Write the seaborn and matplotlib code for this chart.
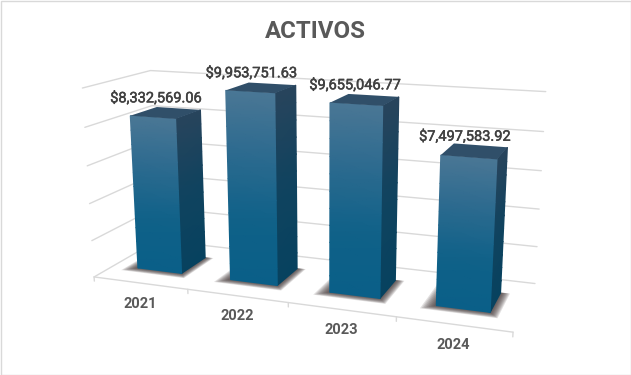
import numpy as np
import seaborn as sns
import matplotlib.pyplot as plt
import matplotlib.patheffects as pe
from matplotlib.patches import Polygon, Rectangle
from matplotlib.transforms import Transform, IdentityTransform

years = ['2021', '2022', '2023', '2024']
activos = [8332569.06, 9953751.63, 9655046.77, 7497583.92]
value_labels = ['$8,332,569.06', '$9,953,751.63', '$9,655,046.77', '$7,497,583.92']
grid_values = [0, 2000000, 4000000, 6000000, 8000000, 10000000]

W, H = 631, 375
TOP = 10000000
D0, D1 = 0.30, 0.71   # depth of the bars inside the floor

# camera calibration: (category x, depth, value) -> pixel in the picture
world = np.array([(0, 0, 0), (1, 0, 0), (2, 0, 0), (3, 0, 0), (4, 0, 0),
                  (0, 1, 0), (4, 1, 0), (0, 0, 1), (0, 1, 1), (4, 1, 1),
                  (0, 0, .8), (0, 0, .6), (4, 1, .8), (4, 1, .6)], float)
pixel = np.array([(94, 277), (188, 290), (288, 303), (396, 317), (513, 332),
                  (158, 240), (535, 283), (82, 88), (150, 71), (546, 92),
                  (85, 127), (88, 165), (543, 132), (542, 170)], float)

rows = []
for (a, b, c), (u, v) in zip(world, pixel):
    rows.append([a, b, c, 1, 0, 0, 0, 0, -u*a, -u*b, -u*c, -u])
    rows.append([0, 0, 0, 0, a, b, c, 1, -v*a, -v*b, -v*c, -v])
cam = np.linalg.svd(np.array(rows))[2][-1].reshape(3, 4)


def proj(x, d, z):
    # x is in category units, z in chart values, result is display coords
    x, d, z = np.broadcast_arrays(np.asarray(x, float), np.asarray(d, float), np.asarray(z, float)/TOP)
    p = cam @ np.stack([x, d, z, np.ones_like(x, dtype=float)])
    return np.stack([p[0]/p[2], H - p[1]/p[2]], axis=-1)


class FrontPlane(Transform):
    input_dims = output_dims = 2

    def transform_non_affine(self, xy):
        xy = np.asarray(xy)
        return proj(xy[:, 0] + 0.5, D0, xy[:, 1])


sns.set_theme(style="white")
plt.rcParams['font.family'] = ['Roboto', 'DejaVu Sans']

fig = plt.figure(figsize=(W/100, H/100), dpi=100, facecolor='white')
ax = fig.add_axes([0, 0, 1, 1])
sns.barplot(x=years, y=activos, ax=ax, width=0.48, color='#1c6488', saturation=1)
bars = list(ax.patches)
ax.set_xlim(-0.5, 3.5)
ax.set_ylim(0, TOP)
ax.axis('off')

# seaborn's axis is categorical, the projected faces go on a plain overlay
over = fig.add_axes([0, 0, 1, 1], facecolor='none')
over.axis('off')

screen = IdentityTransform()
grid_c = '#d9d9d9'
front_cmap = sns.blend_palette(['#0a5f88', '#0f6188', '#2b6a8f', '#4a7795'], as_cmap=True)
side_cmap = sns.blend_palette(['#07425f', '#10435f', '#28445c'], as_cmap=True)
top_cmap = sns.blend_palette(['#2c4a64', '#34536e'], as_cmap=True)


def line(x, d, z):
    xy = proj(x, d, z)
    over.plot(xy[:, 0], xy[:, 1], transform=screen, color=grid_c, lw=1, zorder=1, clip_on=False)


for g in grid_values:
    line([0, 0, 4], [0, 1, 1], [g, g, g])
line([0, 4], [0, 0], [0, 0])
for i in range(5):
    line([i, i], [0, 0], [0, -230000])


def gradient_face(xs, ds, z0, z1, cmap, zorder):
    zs = np.linspace(z0, z1, 12)
    xy = np.array([proj(xs, ds, z) for z in zs])
    c = np.repeat(np.linspace(0, 1, 12)[:, None], 2, axis=1)
    over.pcolormesh(xy[:, :, 0], xy[:, :, 1], c, cmap=cmap, shading='gouraud', vmin=0, vmax=1,
                    transform=screen, zorder=zorder, clip_on=False)


front_tf = FrontPlane()
for i, (rect, value) in enumerate(zip(bars, activos)):
    x0 = rect.get_x() + 0.5
    x1 = x0 + rect.get_width()
    rect.set_transform(front_tf)
    rect.set_clip_on(False)

    # soft shadow under the bar, stacked see-through layers
    for m in np.linspace(.12, .02, 9):
        floor = proj([x0-m, x1+m*.7, x1+m*.7, x0-m], [D0-m*.75, D0-m*.75, D1+m*.1, D1+m*.1], [0, 0, 0, 0])
        over.add_patch(Polygon(floor, closed=True, transform=screen, fc='#3f3535', ec='none', alpha=.15,
                               lw=0, zorder=2, clip_on=False))

    gradient_face([x1, x1], [D0, D1], 0, value, side_cmap, 3)
    gradient_face([x0, x1], [D0, D0], 0, value, front_cmap, 5)
    lid = proj([x0, x1, x1, x0], [D0, D0, D1, D1], [value]*4)
    over.add_patch(Polygon(lid, closed=True, transform=screen, fc=top_cmap(.5), ec='none', zorder=5, clip_on=False))

    tx, ty = proj((x0+x1)/2, (D0+D1)/2, value)
    over.text(tx-10, ty+14.5, value_labels[i], transform=screen, ha='center', va='center', fontsize=10.5,
              color='#404040', zorder=6, clip_on=False,
              path_effects=[pe.withStroke(linewidth=.35, foreground='#404040')])
    lx, ly = proj(i+0.5, 0, 0)
    over.text(lx, ly-20.5, years[i], transform=screen, ha='center', va='center', fontsize=10.5,
              fontweight='bold', color='#595959', zorder=6, clip_on=False)

fig.text(315/W, 1-31/H, 'ACTIVOS', ha='center', va='center', fontsize=17.3, fontweight='bold', color='#595959')
fig.add_artist(Rectangle((0.5/W, 0.5/H), 1-1/W, 1-1/H, transform=fig.transFigure, fc='none', ec='#d9d9d9', lw=1))

fig.savefig('out.png', dpi=100)
